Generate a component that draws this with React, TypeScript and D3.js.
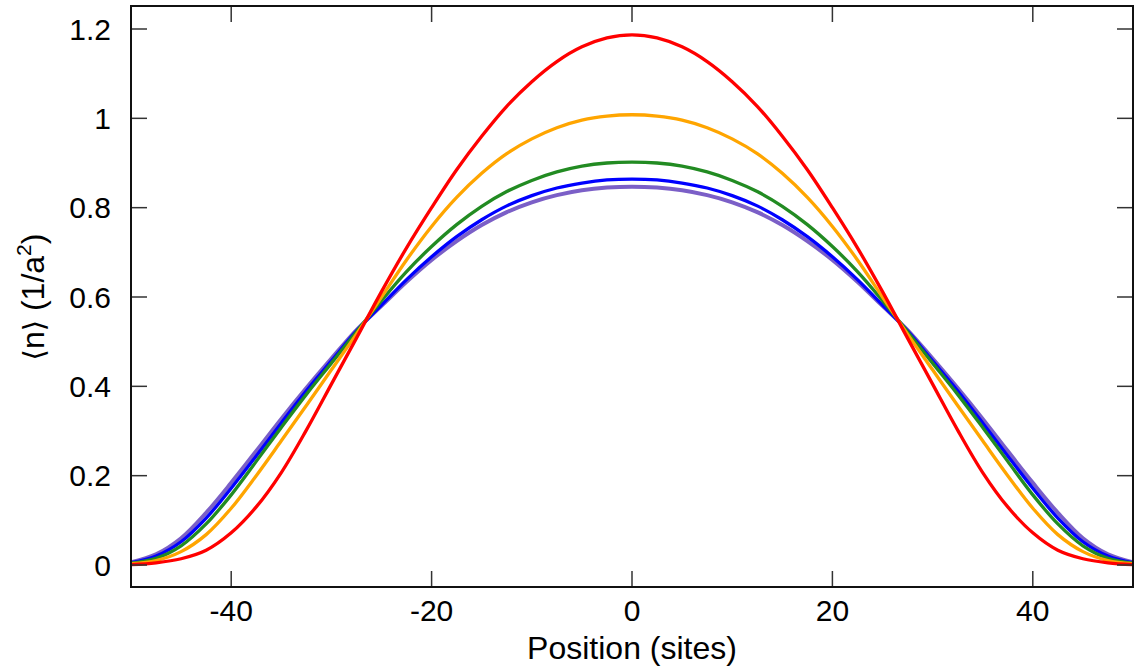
import React from "react";
import * as d3 from "d3";

const xs: number[] = [
  -50, -47.5, -45, -42.5, -40, -37.5, -35, -32.5, -30, -27.5, -25, -22.5, -20, -17.5, -15, -12.5, -10, -7.5, -5, -2.5, 0,
  2.5, 5, 7.5, 10, 12.5, 15, 17.5, 20, 22.5, 25, 27.5, 30, 32.5, 35, 37.5, 40, 42.5, 45, 47.5, 50,
];

const red: number[] = [
  0.001, 0.005, 0.014, 0.033, 0.072, 0.13, 0.207, 0.302, 0.405, 0.508, 0.612, 0.71, 0.8, 0.885, 0.96, 1.027, 1.082, 1.127, 1.16, 1.18, 1.187,
  1.18, 1.16, 1.127, 1.082, 1.027, 0.96, 0.885, 0.8, 0.71, 0.612, 0.508, 0.405, 0.302, 0.207, 0.13, 0.072, 0.033, 0.014, 0.005, 0.001,
];
const orange: number[] = [
  0.003, 0.01, 0.03, 0.068, 0.127, 0.2, 0.278, 0.357, 0.437, 0.517, 0.6, 0.683, 0.758, 0.823, 0.877, 0.921, 0.954, 0.979, 0.996, 1.005, 1.008,
  1.005, 0.996, 0.979, 0.954, 0.921, 0.877, 0.823, 0.758, 0.683, 0.6, 0.517, 0.437, 0.357, 0.278, 0.2, 0.127, 0.068, 0.03, 0.01, 0.003,
];
const green: number[] = [
  0.004, 0.015, 0.043, 0.092, 0.157, 0.232, 0.308, 0.382, 0.452, 0.522, 0.592, 0.657, 0.713, 0.762, 0.803, 0.836, 0.861, 0.88, 0.893, 0.9, 0.902,
  0.9, 0.893, 0.88, 0.861, 0.836, 0.803, 0.762, 0.713, 0.657, 0.592, 0.522, 0.452, 0.382, 0.308, 0.232, 0.157, 0.092, 0.043, 0.015, 0.004,
];
const blue: number[] = [
  0.005, 0.02, 0.052, 0.105, 0.172, 0.244, 0.318, 0.39, 0.457, 0.524, 0.582, 0.639, 0.69, 0.735, 0.773, 0.804, 0.827, 0.844, 0.855, 0.862, 0.864,
  0.862, 0.855, 0.844, 0.827, 0.804, 0.773, 0.735, 0.69, 0.639, 0.582, 0.524, 0.457, 0.39, 0.318, 0.244, 0.172, 0.105, 0.052, 0.02, 0.005,
];
const purple: number[] = [
  0.006, 0.024, 0.06, 0.117, 0.184, 0.255, 0.327, 0.396, 0.462, 0.526, 0.58, 0.634, 0.683, 0.725, 0.761, 0.79, 0.812, 0.828, 0.839, 0.845, 0.847,
  0.845, 0.839, 0.828, 0.812, 0.79, 0.761, 0.725, 0.683, 0.634, 0.58, 0.526, 0.462, 0.396, 0.327, 0.255, 0.184, 0.117, 0.06, 0.024, 0.006,
];

const xTicks: number[] = [-40, -20, 0, 20, 40];
const yTicks: number[] = [0, 0.2, 0.4, 0.6, 0.8, 1, 1.2];
const yTickLabels: string[] = ["0", "0.2", "0.4", "0.6", "0.8", "1", "1.2"];

const seriesList = [
  { name: "purple", values: purple, color: "#7b5fc7", width: 4 },
  { name: "blue", values: blue, color: "#0000ff", width: 3.3 },
  { name: "green", values: green, color: "#228b22", width: 3.3 },
  { name: "orange", values: orange, color: "#ffa500", width: 3.3 },
  { name: "red", values: red, color: "#ff0000", width: 3.3 },
];

const W = 1144;
const H = 666;
const L = 131;
const R = 1133;
const T = 6;
const B = 587;

export default function App() {
  const x = d3.scaleLinear().domain([-50, 50]).range([L, R]);
  const y = d3.scaleLinear().domain([0, 1.2]).range([565, 29]);
  const line = d3
    .line<[number, number]>()
    .x((d) => x(d[0]))
    .y((d) => y(d[1]))
    .curve(d3.curveCatmullRom.alpha(0.5));
  const font = "'Liberation Sans', Arial, Helvetica, sans-serif";
  const tickLen = 16;
  return (
    <svg
      width={W}
      height={H}
      style={{ position: "absolute", left: 0, top: 0, background: "#fff" }}
      fontFamily={font}
    >
      <defs>
        <clipPath id="plot">
          <rect x={L} y={T} width={R - L} height={B - T} />
        </clipPath>
      </defs>
      <rect x={0} y={0} width={W} height={H} fill="#fff" />
      <g clipPath="url(#plot)">
        {seriesList.map((s) => (
          <path
            key={s.name}
            d={line(xs.map((xv, i) => [xv, s.values[i]] as [number, number])) || ""}
            fill="none"
            stroke={s.color}
            strokeWidth={s.width}
            strokeLinejoin="round"
          />
        ))}
      </g>
      <g stroke="#333" strokeWidth={1.5}>
        {xTicks.map((t) => (
          <g key={"xt" + t}>
            <line x1={x(t)} x2={x(t)} y1={B} y2={B - tickLen} />
            <line x1={x(t)} x2={x(t)} y1={T} y2={T + tickLen} />
          </g>
        ))}
        {yTicks.map((t) => (
          <g key={"yt" + t}>
            <line x1={L} x2={L + tickLen} y1={y(t)} y2={y(t)} />
            <line x1={R} x2={R - tickLen} y1={y(t)} y2={y(t)} />
          </g>
        ))}
      </g>
      <rect x={L} y={T} width={R - L} height={B - T} fill="none" stroke="#111" strokeWidth={2} />
      <g fontSize={30} fill="#000">
        {xTicks.map((t) => (
          <text key={"xl" + t} x={x(t)} y={621} textAnchor="middle">
            {t}
          </text>
        ))}
        {yTicks.map((t, i) => (
          <text key={"yl" + t} x={111} y={y(t) + 10.5} textAnchor="end">
            {yTickLabels[i]}
          </text>
        ))}
      </g>
      <text x={(L + R) / 2} y={659} textAnchor="middle" fontSize={32} fill="#000">
        Position (sites)
      </text>
      <text
        transform={`translate(44, ${297}) rotate(-90)`}
        textAnchor="middle"
        fontSize={32}
        fill="#000"
      >
        <tspan fontFamily="'DejaVu Sans', sans-serif" fontSize={29}>⟨</tspan>
        <tspan>n</tspan>
        <tspan fontFamily="'DejaVu Sans', sans-serif" fontSize={29}>⟩</tspan>
        <tspan> (1/a</tspan>
        <tspan fontSize={21} dy={-13}>2</tspan>
        <tspan dy={13}>)</tspan>
      </text>
    </svg>
  );
}
